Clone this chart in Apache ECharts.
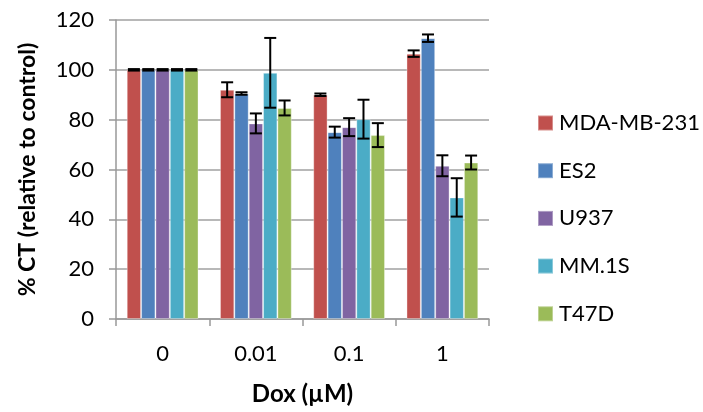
<!DOCTYPE html>
<html><head><meta charset="utf-8">
<script src="https://cdn.jsdelivr.net/npm/echarts@6/dist/echarts.min.js"></script>
<style>html,body{margin:0;padding:0;background:#fff}#c{width:703px;height:412px}</style>
</head><body><div id="c"></div>
<script>
var categories = ['0', '0.01', '0.1', '1'];
var seriesNames = ['MDA-MB-231', 'ES2', 'U937', 'MM.1S', 'T47D'];
var colors = ['#C0504D', '#4F81BD', '#8064A2', '#4BACC6', '#9BBB59'];
var mda = [100, 92, 90, 106.5];
var es2 = [100, 90.5, 75, 112.7];
var u937 = [100, 78.5, 77, 61.5];
var mm1s = [100, 98.8, 80.2, 48.8];
var t47d = [100, 84.7, 73.8, 62.8];
var mdaErr = [0.3, 3, 0.5, 1.3];
var es2Err = [0.3, 0.5, 2.2, 1.5];
var u937Err = [0.3, 4, 3.6, 4.2];
var mm1sErr = [0.3, 14, 7.8, 7.7];
var t47dErr = [0.3, 3, 4.8, 2.8];
var yTicks = [0, 20, 40, 60, 80, 100, 120];

var values = [mda, es2, u937, mm1s, t47d];
var errs = [mdaErr, es2Err, u937Err, mm1sErr, t47dErr];
var FONT = 'Lato';
var catGap = 0.23;

var chart = echarts.init(document.getElementById('c'));
var series = [];
values.forEach(function (v, i) {
  series.push({
    name: seriesNames[i], type: 'bar', data: v, barGap: '0%', barCategoryGap: (catGap * 100) + '%',
    itemStyle: { color: colors[i], borderColor: 'rgba(255,255,255,0.35)', borderWidth: 1 },
    emphasis: { disabled: true }
  });
});
values.forEach(function (v, i) {
  series.push({
    type: 'custom', silent: true, z: 10,
    data: v.map(function (val, k) { return [k, val - errs[i][k], val + errs[i][k]]; }),
    renderItem: function (params, api) {
      var band = api.size([1, 0])[0];
      var barW = band * (1 - catGap) / values.length;
      var off = -band * (1 - catGap) / 2 + barW * (i + 0.5);
      var lo = api.coord([api.value(0), api.value(1)]);
      var hi = api.coord([api.value(0), api.value(2)]);
      var x = lo[0] + off, hw = 6;
      var st = { stroke: '#000', lineWidth: 2 };
      return { type: 'group', children: [
        { type: 'line', shape: { x1: x, y1: lo[1], x2: x, y2: hi[1] }, style: st },
        { type: 'line', shape: { x1: x - hw, y1: lo[1], x2: x + hw, y2: lo[1] }, style: st },
        { type: 'line', shape: { x1: x - hw, y1: hi[1], x2: x + hw, y2: hi[1] }, style: st }
      ]};
    }
  });
});

chart.setOption({
  animation: false,
  grid: { left: 116, right: 214, top: 20, bottom: 93 },
  legend: {
    data: seriesNames, orient: 'vertical', left: 532, top: 107, itemGap: 25.7,
    itemWidth: 15, itemHeight: 15, icon: 'rect',
    textStyle: { fontFamily: FONT, fontSize: 22, color: '#000', padding: [0, 0, 0, 1] }
  },
  xAxis: {
    type: 'category', data: categories,
    axisLine: { lineStyle: { color: '#999', width: 1.5 } },
    axisTick: { show: true, length: 7, lineStyle: { color: '#999', width: 1.5 } },
    axisLabel: { fontFamily: FONT, fontSize: 22, color: '#000', margin: 24 },
    name: 'Dox (µM)', nameLocation: 'middle', nameGap: 63,
    nameTextStyle: { fontFamily: FONT, fontSize: 24, fontWeight: 'bold', color: '#000' }
  },
  yAxis: {
    type: 'value', min: 0, max: 120, interval: 20,
    axisLine: { show: true, lineStyle: { color: '#999', width: 1.5 } },
    axisTick: { show: true, length: 7, lineStyle: { color: '#999', width: 1.5 } },
    splitLine: { lineStyle: { color: '#a0a0a0', width: 1.5 } },
    axisLabel: { fontFamily: FONT, fontSize: 22, color: '#000', margin: 22,
      formatter: function (v) { return yTicks.indexOf(v) >= 0 ? String(v) : ''; } },
    name: '% CT (relative to control)', nameLocation: 'middle', nameGap: 77, nameRotate: 90,
    nameTextStyle: { fontFamily: FONT, fontSize: 23, fontWeight: 'bold', color: '#000' }
  },
  series: series
});
</script></body></html>
